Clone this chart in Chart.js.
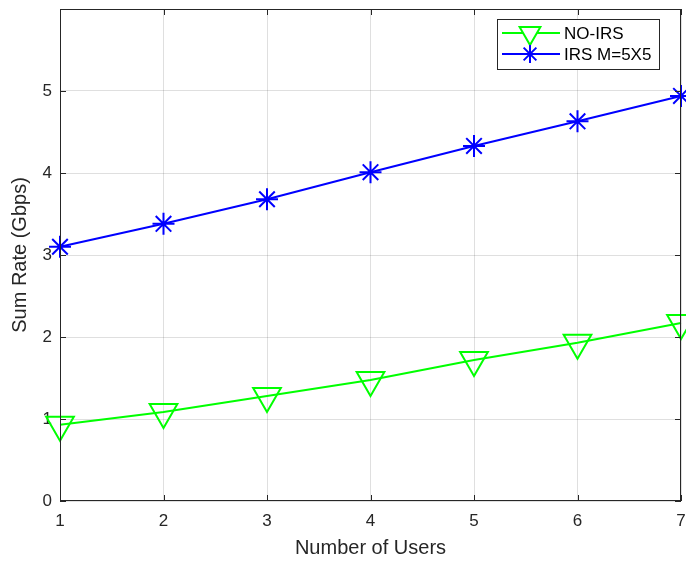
<!DOCTYPE html>
<html>
<head>
<meta charset="utf-8">
<script src="https://cdn.jsdelivr.net/npm/chart.js@4.4.1/dist/chart.umd.min.js"></script>
<style>
  html, body { margin: 0; padding: 0; background: #fff; }
  #wrap { width: 686px; height: 561px; }
</style>
</head>
<body>
<div id="wrap"><canvas id="sumRateChart" width="686" height="561"></canvas></div>
<script>
const users = [1, 2, 3, 4, 5, 6, 7];
const noIrsRate = [0.93, 1.085, 1.28, 1.475, 1.72, 1.93, 2.17];
const irsRate = [3.10, 3.38, 3.68, 4.01, 4.33, 4.63, 4.94];
const seriesLabels = ["NO-IRS", "IRS M=5X5"];
const yTicks = [0, 1, 2, 3, 4, 5, 6];

const FONT = "'Liberation Sans', Arial, Helvetica, sans-serif";
const AXIS = "#262626";

// box + inward ticks like matlab
const boxPlugin = {
  id: "boxPlugin",
  afterDatasetsDraw(chart) {
    const { ctx, chartArea: a, scales } = chart;
    ctx.save();
    ctx.strokeStyle = AXIS;
    ctx.lineWidth = 1;
    ctx.strokeRect(a.left + 0.5, a.top + 0.5, a.right - a.left - 1, a.bottom - a.top - 1);
    const len = 6;
    ctx.beginPath();
    users.forEach((u) => {
      const x = Math.round(scales.x.getPixelForValue(u)) + 0.5;
      ctx.moveTo(x, a.bottom); ctx.lineTo(x, a.bottom - len);
      ctx.moveTo(x, a.top); ctx.lineTo(x, a.top + len);
    });
    yTicks.forEach((t) => {
      const y = Math.round(scales.y.getPixelForValue(t)) + 0.5;
      ctx.moveTo(a.left, y); ctx.lineTo(a.left + len, y);
      ctx.moveTo(a.right, y); ctx.lineTo(a.right - len, y);
    });
    ctx.stroke();
    ctx.restore();
  },
  afterDraw(chart) {
    // legend box, top right inside plot
    const { ctx } = chart;
    const bx = 497, by = 19, bw = 162, bh = 50;
    ctx.save();
    ctx.fillStyle = "#fff";
    ctx.fillRect(bx, by, bw, bh);
    ctx.strokeStyle = AXIS;
    ctx.lineWidth = 1;
    ctx.strokeRect(bx + 0.5, by + 0.5, bw, bh);
    chart.data.datasets.forEach((ds, i) => {
      const y = by + 14 + i * 21;
      ctx.strokeStyle = ds.borderColor;
      ctx.lineWidth = 2;
      ctx.beginPath();
      ctx.moveTo(bx + 5, y);
      ctx.lineTo(bx + 63, y);
      ctx.stroke();
      Chart.helpers.drawPoint(ctx, {
        pointStyle: ds.pointStyle,
        radius: i === 0 ? 12 : 9,
        rotation: ds.pointRotation || 0,
        borderWidth: 2,
      }, bx + 33, y);
      ctx.fillStyle = "#000";
      ctx.font = "17px " + FONT;
      ctx.textBaseline = "middle";
      ctx.fillText(ds.label, bx + 67, y + 1);
    });
    ctx.restore();
  },
};

function buildPoints(ys) {
  return users.map((u, i) => ({ x: u, y: ys[i] }));
}

new Chart(document.getElementById("sumRateChart"), {
  type: "line",
  data: {
    datasets: [
      {
        label: seriesLabels[0],
        data: buildPoints(noIrsRate),
        borderColor: "#00ff00",
        backgroundColor: "rgba(0,0,0,0)",
        borderWidth: 2,
        pointStyle: "triangle",
        pointRotation: 180,
        pointRadius: 16,
        pointBorderWidth: 2,
        pointBorderColor: "#00ff00",
        pointBackgroundColor: "rgba(0,0,0,0)",
        tension: 0,
        clip: false,
      },
      {
        label: seriesLabels[1],
        data: buildPoints(irsRate),
        borderColor: "#0000ff",
        backgroundColor: "rgba(0,0,0,0)",
        borderWidth: 2,
        pointStyle: "star",
        pointRadius: 11,
        pointBorderWidth: 2,
        pointBorderColor: "#0000ff",
        tension: 0,
        clip: false,
      },
    ],
  },
  options: {
    responsive: false,
    animation: false,
    events: [],
    layout: { autoPadding: false, padding: { top: 9, right: 5, left: 0, bottom: 0 } },
    plugins: {
      legend: { display: false },
      tooltip: { enabled: false },
    },
    scales: {
      x: {
        type: "linear",
        min: 1,
        max: 7,
        afterBuildTicks: (axis) => { axis.ticks = users.map((v) => ({ value: v })); },
        afterFit: (axis) => {
          axis.height = 60;
          axis.paddingLeft = 0;
          axis.paddingRight = 0;
        },
        grid: { color: "rgba(38,38,38,0.15)", drawTicks: false },
        border: { display: false },
        ticks: { color: AXIS, padding: 10, font: { family: FONT, size: 17 }, maxRotation: 0 },
        title: {
          display: true,
          text: "Number of Users",
          color: AXIS,
          font: { family: FONT, size: 20 },
          padding: { top: 0, bottom: 1 },
        },
      },
      y: {
        min: 0,
        max: 6,
        afterBuildTicks: (axis) => { axis.ticks = yTicks.map((v) => ({ value: v })); },
        afterFit: (axis) => {
          axis.width = 60;
          axis.paddingTop = 0;
          axis.paddingBottom = 0;
        },
        grid: { color: "rgba(38,38,38,0.15)", drawTicks: false },
        border: { display: false },
        ticks: {
          color: AXIS,
          padding: 8,
          font: { family: FONT, size: 17 },
          callback: (v) => (v === 6 ? "" : v),
        },
        title: {
          display: true,
          text: "Sum Rate (Gbps)",
          color: AXIS,
          font: { family: FONT, size: 20 },
          padding: { top: 8, bottom: 0 },
        },
      },
    },
  },
  plugins: [boxPlugin],
});
</script>
</body>
</html>
